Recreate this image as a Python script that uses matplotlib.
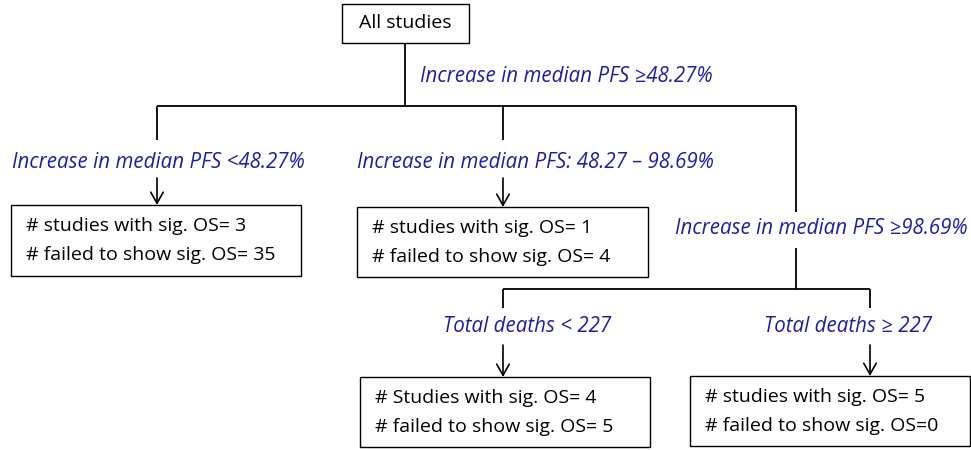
import matplotlib
matplotlib.use('Agg')
from matplotlib import pyplot as plt
from matplotlib.patches import Rectangle

# text content
root_label = 'All studies'
split_labels = ['Increase in median PFS \u226548.27%',
                'Increase in median PFS <48.27%',
                'Increase in median PFS: 48.27 \u2013 98.69%',
                'Increase in median PFS \u226598.69%',
                'Total deaths < 227',
                'Total deaths \u2265 227']
leaf_sig = ['# studies with sig. OS= 3', '# studies with sig. OS= 1',
            '# Studies with sig. OS= 4', '# studies with sig. OS= 5']
leaf_fail = ['# failed to show sig. OS= 35', '# failed to show sig. OS= 4',
             '# failed to show sig. OS= 5', '# failed to show sig. OS=0']

blue = '#1f1f9e'
font = 'Open Sans'
fs_box = 14
fs_lab = 14.8

fig = plt.figure(figsize=(9.71, 4.5), dpi=100)
ax = fig.add_axes([0, 0, 1, 1])
ax.set_xlim(0, 971)
ax.set_ylim(450, 0)
ax.axis('off')


def line(x0, y0, x1, y1):
    ax.plot([x0, x1], [y0, y1], color='black', lw=1.3, solid_capstyle='butt')


def arrow(x, y0, y1):
    ax.annotate('', xy=(x, y1), xytext=(x, y0),
                arrowprops=dict(arrowstyle='->,head_length=0.8,head_width=0.45',
                                color='black', lw=1.2, shrinkA=0, shrinkB=0))


def box(x0, y0, x1, y1):
    ax.add_patch(Rectangle((x0, y0), x1 - x0, y1 - y0, fill=False,
                           edgecolor='black', lw=1.0))


def label(x, y, s, ha='left'):
    ax.text(x, y, s, ha=ha, va='center', fontsize=fs_lab, style='italic',
            color=blue, family=font)


# root
box(342, 4, 469, 43)
ax.text(405.5, 23, root_label, ha='center', va='center', fontsize=fs_box, family=font)
line(405, 43, 405, 106)
label(420, 77, split_labels[0])

# first split
line(157, 106, 796, 106)
line(157, 106, 157, 140)
line(503, 106, 503, 140)
line(796, 106, 796, 212)

label(12, 162, split_labels[1])
label(357, 162, split_labels[2])
label(675, 229, split_labels[3])

arrow(157, 178, 205)
arrow(503, 178, 207)

# second split
line(796, 248, 796, 289)
line(503, 289, 870, 289)
line(503, 289, 503, 308)
line(870, 289, 870, 308)

label(527, 327, split_labels[4], ha='center')
label(848, 326, split_labels[5], ha='center')

arrow(503, 345, 377)
arrow(870, 345, 376)

# leaves
leaf_boxes = [(11, 205, 301, 276), (357, 207, 648, 277),
              (360, 377, 650, 447), (690, 376, 970, 446)]
for (x0, y0, x1, y1), s, f in zip(leaf_boxes, leaf_sig, leaf_fail):
    box(x0, y0, x1, y1)
    h = y1 - y0
    ax.text(x0 + 15, y0 + 0.30 * h, s, ha='left', va='center', fontsize=fs_box, family=font)
    ax.text(x0 + 15, y0 + 0.71 * h, f, ha='left', va='center', fontsize=fs_box, family=font)

fig.savefig('out.png', dpi=100)
